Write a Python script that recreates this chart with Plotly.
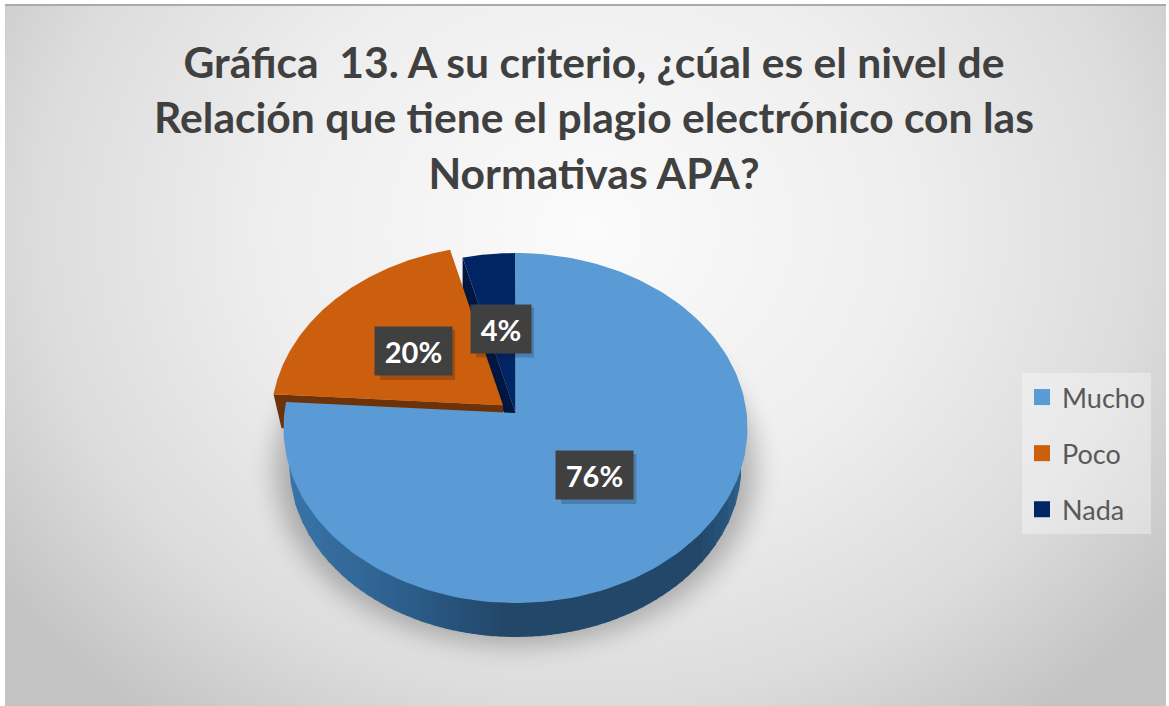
import base64
import numpy as np
import plotly.graph_objects as go

# --- data ---
categories = ["Mucho", "Poco", "Nada"]
percent = [76, 20, 4]
explode = [0.0, 0.07, 0.0]
colors = ["#5b9bd5", "#cc5f0e", "#002464"]
wall_colors = ["#2f5f8c", "#6e3208", "#001640"]
title_lines = ["Gráfica  13. A su criterio, ¿cúal es el nivel de",
               "Relación que tiene el plagio electrónico con las",
               "Normativas APA?"]

# --- geometry of the tilted pie (page pixels used as axis units) ---
W, H = 1169, 706
CX, APEX_Y = 515.5, 413.0
RX, RY, ELL_Y = 232.0, 175.0, 428.0
DEPTH = 34.0
BOT_RX, BOT_RY, BOT_Y = 226.0, 172.0, 465.0
FONT = "Lato"


def rim(theta):
    """Point on the top-face ellipse seen from the apex at clockwise angle theta (rad)."""
    p = (APEX_Y - ELL_Y) / RY
    dx, dy = np.sin(theta), -np.cos(theta)
    b = p * dy
    t = -b + np.sqrt(b * b - (p * p - 1))
    return CX + RX * t * dx, ELL_Y + RY * (p + t * dy)


def slice_xy(a0, a1, off):
    th = np.linspace(a0, a1, 160)
    x, y = rim(th)
    return (np.r_[CX, x, CX] + off[0], np.r_[APEX_Y, y, APEX_Y] + off[1])


fracs = np.array(percent) / sum(percent)
ends = np.cumsum(fracs) * 2 * np.pi
starts = ends - fracs * 2 * np.pi
mids = (starts + ends) / 2
offs = [(e * RX * np.sin(m), -e * RY * np.cos(m)) for e, m in zip(explode, mids)]

fig = go.Figure()


def poly(x, y, color):
    fig.add_trace(go.Scatter(x=x, y=y, mode="lines", fill="toself", fillcolor=color,
                             line=dict(width=0, color=color), hoverinfo="skip", showlegend=False))


# side wall of the pie, strips shaded from left to right
shade_x = [289, 360, 430, 500, 600, 700, 725, 741]
shade_rgb = [(58, 116, 168), (50, 104, 152), (42, 88, 132), (35, 72, 106),
             (35, 71, 104), (36, 72, 106), (40, 84, 122), (48, 98, 140)]
edges = np.linspace(289, 741, 70)
for a, b in zip(edges[:-1], edges[1:]):
    xs = np.linspace(a, min(b + 1, 741), 5)
    top = ELL_Y + RY * np.sqrt(np.clip(1 - ((xs - CX) / RX) ** 2, 0, 1)) - 2
    bot = BOT_Y + BOT_RY * np.sqrt(np.clip(1 - ((xs - CX) / BOT_RX) ** 2, 0, 1))
    rgb = [np.interp((a + b) / 2, shade_x, [c[i] for c in shade_rgb]) for i in range(3)]
    poly(np.r_[xs, xs[::-1], xs[0]], np.r_[top, bot[::-1], top[0]],
         "rgb(%d,%d,%d)" % tuple(rgb))


def radial_wall(i, angle, dx):
    ox, oy = offs[i]
    ex, ey = rim(angle)
    poly(np.array([CX, ex, ex + dx, CX, CX]) + ox,
         np.array([APEX_Y, ey, ey + DEPTH, APEX_Y + DEPTH, APEX_Y]) + oy, wall_colors[i])


# navy: inner wall and face
radial_wall(2, starts[2], 0)
poly(*slice_xy(starts[2], ends[2], offs[2]), colors[2])
# orange: inner wall
radial_wall(1, starts[1], 8)
# blue and orange faces
poly(*slice_xy(starts[0], ends[0], offs[0]), colors[0])
poly(*slice_xy(starts[1], ends[1], offs[1]), colors[1])

# legend entries
for name, c in zip(categories, colors):
    fig.add_trace(go.Scatter(x=[None], y=[None], mode="markers", name=name, legendgroup=name,
                             marker=dict(symbol="square", size=16, color=c)))

# value labels
box_w = {1: 58, 2: 75}
shapes = []
annotations = []
for i in range(3):
    lx = CX + offs[i][0] + 0.5 * RX * np.sin(mids[i])
    ly = APEX_Y + offs[i][1] + 0.486 * RY * (-np.cos(mids[i]))
    txt = f"{percent[i]}%"
    w = box_w[len(str(percent[i]))] / 2
    shapes.append(dict(type="rect", xref="x", yref="y", x0=lx - w + 4, x1=lx + w + 4,
                       y0=ly - 21, y1=ly + 29, line=dict(width=0),
                       fillcolor="rgba(20,20,30,0.22)", layer="above"))
    annotations.append(dict(x=lx, y=ly, xref="x", yref="y", text=f"<b>{txt}</b>", showarrow=False,
                            width=w * 2, height=46, bgcolor="#404040", align="center", valign="middle",
                            font=dict(family=FONT, size=29, color="white")))

svg = f'''<svg xmlns="http://www.w3.org/2000/svg" width="{W}" height="{H}" viewBox="0 0 {W} {H}">
<defs>
<radialGradient id="g" gradientUnits="userSpaceOnUse" cx="590" cy="230" r="720"
 gradientTransform="translate(590 230) scale(1 0.85) translate(-590 -230)">
<stop offset="0" stop-color="#fbfbfb"/><stop offset="0.45" stop-color="#eeeeee"/>
<stop offset="0.77" stop-color="#dcdcdc"/><stop offset="1" stop-color="#c4c4c4"/>
</radialGradient>
<filter id="b" x="-20%" y="-20%" width="140%" height="140%"><feGaussianBlur stdDeviation="13"/></filter>
</defs>
<rect width="{W}" height="{H}" fill="#ffffff"/>
<rect x="5" y="4" width="{W-8}" height="{H-4}" fill="url(#g)"/>
<rect x="5" y="4" width="{W-8}" height="2" fill="#aaaaaa"/>
<ellipse cx="{CX}" cy="{BOT_Y+4}" rx="{BOT_RX+14}" ry="{BOT_RY+4}" fill="#000" opacity="0.26" filter="url(#b)"/>
</svg>'''
uri = "data:image/svg+xml;base64," + base64.b64encode(svg.encode()).decode()

fig.update_layout(
    width=W, height=H, margin=dict(l=0, r=0, t=0, b=0),
    paper_bgcolor="white", plot_bgcolor="rgba(0,0,0,0)",
    xaxis=dict(range=[0, W], visible=False, fixedrange=True),
    yaxis=dict(range=[H, 0], visible=False, fixedrange=True),
    images=[dict(source=uri, xref="paper", yref="paper", x=0, y=1, sizex=1, sizey=1,
                 xanchor="left", yanchor="top", sizing="stretch", layer="below")],
    title=dict(text="<b>" + "<br>".join(title_lines) + "</b>", x=594 / W, xanchor="center",
               y=1 - 78 / H, yanchor="top",
               font=dict(family=FONT, size=42.6, color="#404040")),
    legend=dict(x=1022 / W, y=1 - 373 / H, xanchor="left", yanchor="top",
                bgcolor="rgba(255,255,255,0.35)", tracegroupgap=18, itemclick=False, itemdoubleclick=False,
                font=dict(family=FONT, size=27, color="#595959")),
    shapes=shapes, annotations=annotations, showlegend=True,
)
fig.write_html("out.html", config={"displayModeBar": False},
               post_script="document.body.style.margin='0';")
